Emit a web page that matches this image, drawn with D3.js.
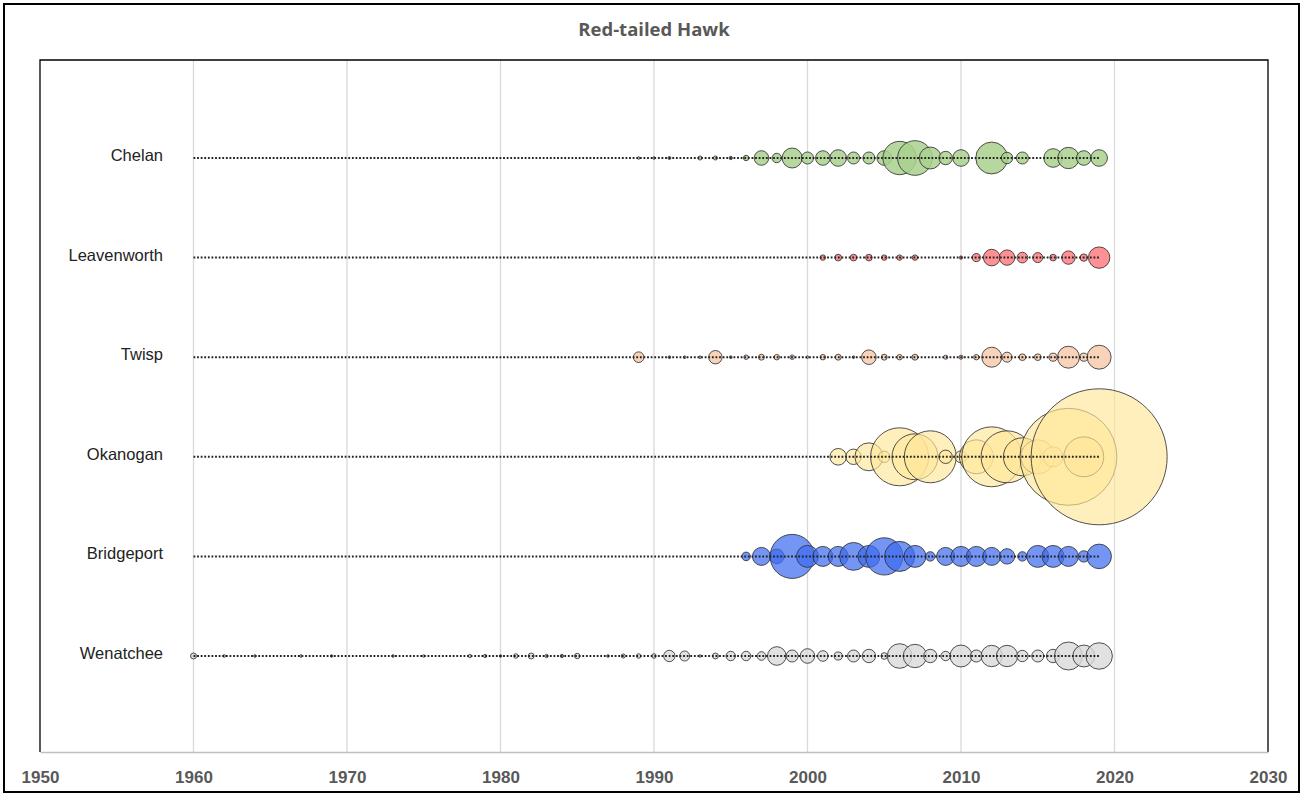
<!DOCTYPE html>
<html>
<head>
<meta charset="utf-8">
<script src="https://cdn.jsdelivr.net/npm/d3@7"></script>
<style>
  html, body { margin: 0; padding: 0; background: #fff; }
  svg { display: block; }
</style>
</head>
<body>
<svg id="chart" width="1303" height="795"></svg>
<script>
// ---------------- DATA ----------------
const chartTitle = "Red-tailed Hawk";
const categories = ["Chelan", "Leavenworth", "Twisp", "Okanogan", "Bridgeport", "Wenatchee"];
const xTicks = [1950, 1960, 1970, 1980, 1990, 2000, 2010, 2020, 2030];
const lineStartYear = 1960;
const lineEndYear = 2019;

// [year, relative count]
const chelan = [[1989,0.15],[1990,0.15],[1991,0.5],[1993,0.9],[1994,0.9],[1995,0.6],[1996,1.6],[1997,11.5],[1998,4.8],[1999,21.6],[2000,7.8],[2001,11.5],[2002,14.9],[2003,7.8],[2004,7.8],[2005,11.5],[2006,60],[2007,65],[2008,26],[2009,9.7],[2010,14.9],[2012,55],[2013,7],[2014,7.8],[2016,18.7],[2017,24.7],[2018,11.5],[2019,14.9]];
const leavenworth = [[2001,1.6],[2002,2.4],[2003,2.4],[2004,2.4],[2005,1.6],[2006,1.6],[2007,1.6],[2010,0.6],[2011,3.5],[2012,14.9],[2013,12.8],[2014,6.1],[2015,5.4],[2016,2.4],[2017,9.7],[2018,3],[2019,24.7]];
const twisp = [[1989,6.1],[1991,0.4],[1992,0.1],[1993,0.2],[1994,9.7],[1995,0.4],[1996,1.1],[1997,1.9],[1998,1.6],[1999,1.1],[2000,0.2],[2001,1.6],[2002,1.9],[2003,0.2],[2004,11.5],[2005,1.9],[2006,1.6],[2007,1.9],[2009,0.9],[2010,0.9],[2011,1.6],[2012,21.6],[2013,5.4],[2014,2.4],[2015,2.4],[2016,3.5],[2017,26],[2018,3.5],[2019,31]];
const okanogan = [[2002,14.9],[2003,12.8],[2004,42.3],[2005,7],[2006,182],[2007,114],[2008,146],[2009,9.7],[2010,7.8],[2011,62],[2012,194],[2013,146],[2014,78],[2015,62],[2016,21.6],[2017,508],[2018,86],[2019,1000]];
const bridgeport = [[1996,4],[1997,17.5],[1998,11.5],[1999,105],[2000,26],[2001,21.6],[2002,21.6],[2003,42],[2004,26],[2005,75],[2006,49],[2007,26],[2008,4.8],[2009,17.5],[2010,21.6],[2011,21.6],[2012,17.5],[2013,12.8],[2014,4.8],[2015,26],[2016,26],[2017,21.6],[2018,7],[2019,32.7]];
const wenatchee = [[1960,1.9],[1962,0.4],[1964,0.2],[1967,0.4],[1969,0.1],[1973,0.1],[1975,0.2],[1978,0.6],[1979,0.6],[1980,0.2],[1981,1.1],[1982,1.9],[1983,0.6],[1984,0.6],[1985,1.6],[1987,0.1],[1988,0.9],[1989,1.1],[1990,1.1],[1991,7],[1992,5.4],[1993,0.2],[1994,1.9],[1995,4.8],[1996,4.8],[1997,4],[1998,18.7],[1999,7.8],[2000,11.5],[2001,6.1],[2002,3.5],[2003,7.8],[2004,9.7],[2005,2.4],[2006,32.7],[2007,29.6],[2008,9.7],[2009,4.8],[2010,26],[2011,7.8],[2012,24.7],[2013,24.7],[2014,7],[2015,7.8],[2016,9.7],[2017,42.3],[2018,26],[2019,38]];

const seriesData = [chelan, leavenworth, twisp, okanogan, bridgeport, wenatchee];
const seriesColors = ["#a9d18e", "#ff7c80", "#f8cbad", "#ffe699", "#3f6cf0", "#d9d9d9"];
const seriesOpacity = [0.85, 0.85, 0.85, 0.65, 0.72, 0.8];

// ---------------- LAYOUT ----------------
const svg = d3.select("#chart");
const plot = { left: 40, top: 60, right: 1268, bottom: 752 };

const x = d3.scaleLinear().domain([1950, 2030]).range([plot.left, plot.right]);
const y = d3.scalePoint().domain(categories).range([158, 656]);
const r = d3.scaleSqrt().domain([0, 1000]).range([0, 68]);

// outer frame
svg.append("rect")
  .attr("x", 4).attr("y", 4).attr("width", 1295).attr("height", 788)
  .attr("fill", "#fff").attr("stroke", "#000").attr("stroke-width", 2);

// title
svg.append("text")
  .attr("x", 654).attr("y", 36)
  .attr("text-anchor", "middle")
  .attr("font-family", "'Open Sans', sans-serif")
  .attr("font-weight", "bold")
  .attr("font-size", 18.5)
  .attr("fill", "#595959")
  .text(chartTitle);

// gridlines
svg.append("g")
  .selectAll("line")
  .data(xTicks.filter(t => t > 1950 && t < 2030))
  .join("line")
  .attr("x1", d => x(d)).attr("x2", d => x(d))
  .attr("y1", plot.top).attr("y2", plot.bottom)
  .attr("stroke", "#d9d9d9").attr("stroke-width", 1.3);

// plot border (left, top, right)
svg.append("path")
  .attr("d", `M${plot.left},${plot.bottom}V${plot.top}H${plot.right}V${plot.bottom}`)
  .attr("fill", "none").attr("stroke", "#000").attr("stroke-width", 1.3);

// x axis
const xAxis = d3.axisBottom(x).tickValues(xTicks).tickFormat(d3.format("d")).tickSize(0).tickPadding(19);
const gx = svg.append("g").attr("transform", `translate(0,${plot.bottom})`).call(xAxis);
gx.select(".domain").attr("stroke", "#bfbfbf").attr("stroke-width", 1.5);
gx.selectAll("text")
  .attr("font-family", "'Liberation Sans Narrow', 'Arial Narrow', sans-serif")
  .attr("font-weight", "bold")
  .attr("font-size", 17)
  .attr("fill", "#595959");

// category labels
svg.append("g")
  .selectAll("text")
  .data(categories)
  .join("text")
  .attr("x", 163)
  .attr("y", d => y(d) + 3)
  .attr("text-anchor", "end")
  .attr("font-family", "'Liberation Sans', Arial, sans-serif")
  .attr("font-size", 16.5)
  .attr("fill", "#222")
  .text(d => d);

// bubbles
seriesData.forEach((data, i) => {
  const cy = y(categories[i]);
  svg.append("g")
    .selectAll("circle")
    .data(data)
    .join("circle")
    .attr("cx", d => x(d[0]))
    .attr("cy", cy)
    .attr("r", d => Math.max(1.3, r(d[1])))
    .attr("fill", seriesColors[i])
    .attr("fill-opacity", seriesOpacity[i])
    .attr("stroke", "#333")
    .attr("stroke-opacity", 0.85)
    .attr("stroke-width", 1);
});

// dotted lines
svg.append("g")
  .selectAll("line")
  .data(categories)
  .join("line")
  .attr("x1", x(lineStartYear)).attr("x2", x(lineEndYear))
  .attr("y1", d => y(d)).attr("y2", d => y(d))
  .attr("stroke", "#222")
  .attr("stroke-width", 2)
  .attr("stroke-dasharray", "1.8,1.8");
</script>
</body>
</html>
